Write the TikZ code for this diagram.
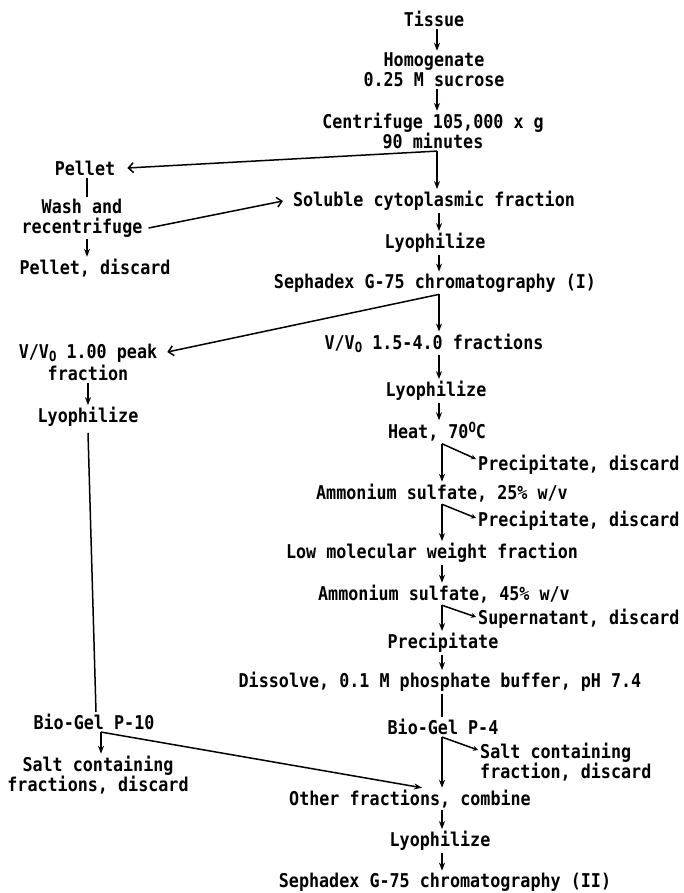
\documentclass[tikz,border=0pt]{standalone}
\usepackage{fontspec}
\setmainfont[FakeStretch=0.88]{DejaVu Sans Mono}
\usetikzlibrary{arrows.meta}
\newcommand{\mysub}[1]{\raisebox{-3pt}{\fontsize{14}{14}\selectfont #1}}
\newcommand{\mysupx}[1]{\raisebox{6pt}{\fontsize{14}{14}\selectfont #1}}
\begin{document}
\begin{tikzpicture}[x=1pt,y=-1pt,
  every node/.style={inner sep=2pt, font=\fontsize{19}{20}\selectfont\bfseries, align=center},
  arr/.style={-{Stealth[length=8pt,width=6pt]}, line width=1.5pt},
  ln/.style={line width=1.5pt},
  barb/.style={-{Straight Barb[length=5pt,width=10pt]}, line width=1.5pt},
  sarr/.style={-{Stealth[length=5pt,width=5pt]}, line width=1.5pt}]
\useasboundingbox (0,0) rectangle (683,893);
\coordinate (s1) at (437,0);
\coordinate (s2) at (439,0);
\coordinate (s3) at (442,0);
% right column
\node (tissue) at (434,19) {Tissue};
\node (homog) at (434,70) {Homogenate\\0.25 M sucrose};
\node (centr) at (433,131) {Centrifuge 105,000 x g\\90 minutes};
\node (sol) at (434,201) {Soluble cytoplasmic fraction};
\node (lyo1) at (435,243) {Lyophilize};
\node (seph1) at (435,283) {Sephadex G-75 chromatography (I)};
\node (vv2) at (434,343) {V/V\mysub{O} 1.5-4.0 fractions};
\node (lyo2) at (436,391) {Lyophilize};
\node (heat) at (437,432) {Heat, 70\mysupx{O}C};
\node[anchor=west] (prec1) at (476,465) {Precipitate, discard};
\node (amm25) at (442,493) {Ammonium sulfate, 25\% w/v};
\node[anchor=west] (prec2) at (476,521) {Precipitate, discard};
\node (low) at (432,553) {Low molecular weight fraction};
\node (amm45) at (444,594) {Ammonium sulfate, 45\% w/v};
\node[anchor=west] (super) at (476,619) {Supernatant, discard};
\node (prec) at (443,643) {Precipitate};
\node (diss) at (440,682) {Dissolve, 0.1 M phosphate buffer, pH 7.4};
\node (bg4) at (443,727) {Bio-Gel P-4};
\node[anchor=west,align=left] (salt1) at (478,762) {Salt containing\\fraction, discard};
\node (other) at (410,799) {Other fractions, combine};
\node (lyo4) at (440,841) {Lyophilize};
\node (seph2) at (445,882) {Sephadex G-75 chromatography (II)};
% left column
\node (pellet) at (85,168) {Pellet};
\node (wash) at (82,218) {Wash and\\recentrifuge};
\node (pdisc) at (95,268) {Pellet, discard};
\node[font=\fontsize{19}{22}\selectfont\bfseries] (vv1) at (88,362) {V/V\mysub{O} 1.00 peak\\fraction};
\node (lyo3) at (88,417) {Lyophilize};
\node (bg10) at (94,722) {Bio-Gel P-10};
\node (salt2) at (98,775) {Salt containing\\fractions, discard};
% connectors
\draw[arr] (tissue.south -| s1) -- (homog.north -| s1);
\draw[arr] (homog.south -| s1) -- (centr.north -| s1);
\coordinate (cb) at (centr.south -| s1);
\draw[barb] (cb) -- ([xshift=10pt]pellet.east);
\draw[arr] (cb) -- (sol.north -| s1);
\draw[ln] ([xshift=2pt]pellet.south) -- ([xshift=5pt]wash.north);
\draw[barb] ([xshift=4pt,yshift=-10pt]wash.east) -- ([xshift=-8pt]sol.west);
\draw[arr] ([xshift=5pt]wash.south) -- ([xshift=-8pt]pdisc.north);
\draw[arr] (sol.south -| s2) -- (lyo1.north -| s2);
\draw[arr] (lyo1.south -| s2) -- (seph1.north -| s2);
\coordinate (sb) at (seph1.south -| s2);
\draw[barb] (sb) -- ([xshift=8pt,yshift=10pt]vv1.east);
\draw[arr] (sb) -- (vv2.north -| s2);
\draw[arr] (vv2.south -| s2) -- (lyo2.north -| s2);
\draw[arr] (lyo2.south -| s2) -- (heat.north -| s2);
\draw[arr] (vv1.south -| lyo3) -- (lyo3.north);
\draw[ln] ([yshift=-4pt]lyo3.south) -- ([xshift=2pt]bg10.north);
\coordinate (hb) at (heat.south -| s3);
\draw[arr] (hb) -- (amm25.north -| s3);
\draw[sarr] (hb) -- ([yshift=6pt]prec1.west);
\coordinate (ab) at (amm25.south -| s3);
\draw[arr] (ab) -- (low.north -| s3);
\draw[sarr] (ab) -- ([yshift=3pt]prec2.west);
\draw[arr] (low.south -| s3) -- (amm45.north -| s3);
\coordinate (a2b) at (amm45.south -| s3);
\draw[arr] (a2b) -- (prec.north -| s3);
\draw[sarr] (a2b) -- ([yshift=2pt]super.west);
\draw[arr] (prec.south -| s3) -- (diss.north -| s3);
\draw[ln] (diss.south -| s3) -- (bg4.north -| s3);
\coordinate (b4) at (bg4.south -| s3);
\draw[arr] (b4) -- (other.north -| s3);
\draw[sarr] (b4) -- ([yshift=12pt]salt1.west);
\coordinate (b10) at ([xshift=7pt]bg10.south);
\draw[arr] (b10) -- (salt2.north -| b10);
\draw[arr] (b10) -- ([xshift=12pt]other.north);
\draw[arr] (other.south -| s3) -- (lyo4.north -| s3);
\draw[arr] (lyo4.south -| s3) -- (seph2.north -| s3);
\end{tikzpicture}
\end{document}
